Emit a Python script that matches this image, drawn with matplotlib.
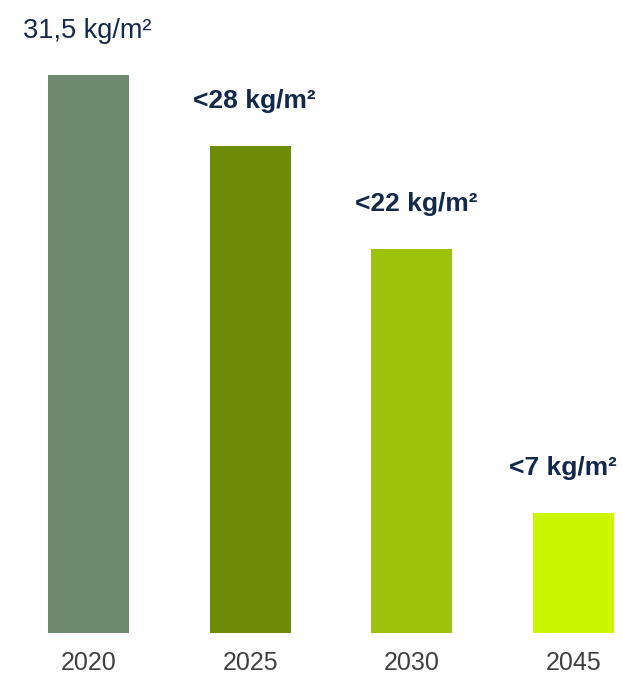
import matplotlib.pyplot as plt

years = ["2020", "2025", "2030", "2045"]
values = [31.5, 27.5, 21.7, 6.8]
labels = ["31,5 kg/m²", "<28 kg/m²", "<22 kg/m²", "<7 kg/m²"]
bold_label = [False, True, True, True]
colors = ["#6e8b70", "#6e8b08", "#9dc20b", "#ccf500"]

plt.rcParams['font.family'] = ['Liberation Sans', 'DejaVu Sans']

fig = plt.figure(figsize=(6.22, 6.75), dpi=100)
ax = fig.add_axes([0, 42 / 675, 1, 633 / 675])

x = range(len(years))
ax.bar(x, values, width=0.5, color=colors)

# last label sits a little left so it stays inside the figure
shift = [-1, 3, 3, -8]
for i, (v, lab, b) in enumerate(zip(values, labels, bold_label)):
    ax.annotate(lab, (i, v), xytext=(shift[i], 27), textcoords='offset points',
                ha='center', va='baseline', fontsize=19.5 if not b else 19,
                fontweight='bold' if b else 'normal', color='#13284a')

ax.set_xlim(-0.547, 3.299)
ax.set_ylim(0, 35.74)
ax.set_xticks(list(x))
ax.set_xticklabels(years, fontsize=18, color='#404040')
ax.tick_params(axis='x', length=0, pad=13)
ax.set_yticks([])
for s in ax.spines.values():
    s.set_visible(False)

fig.savefig('out.png', dpi=100)
